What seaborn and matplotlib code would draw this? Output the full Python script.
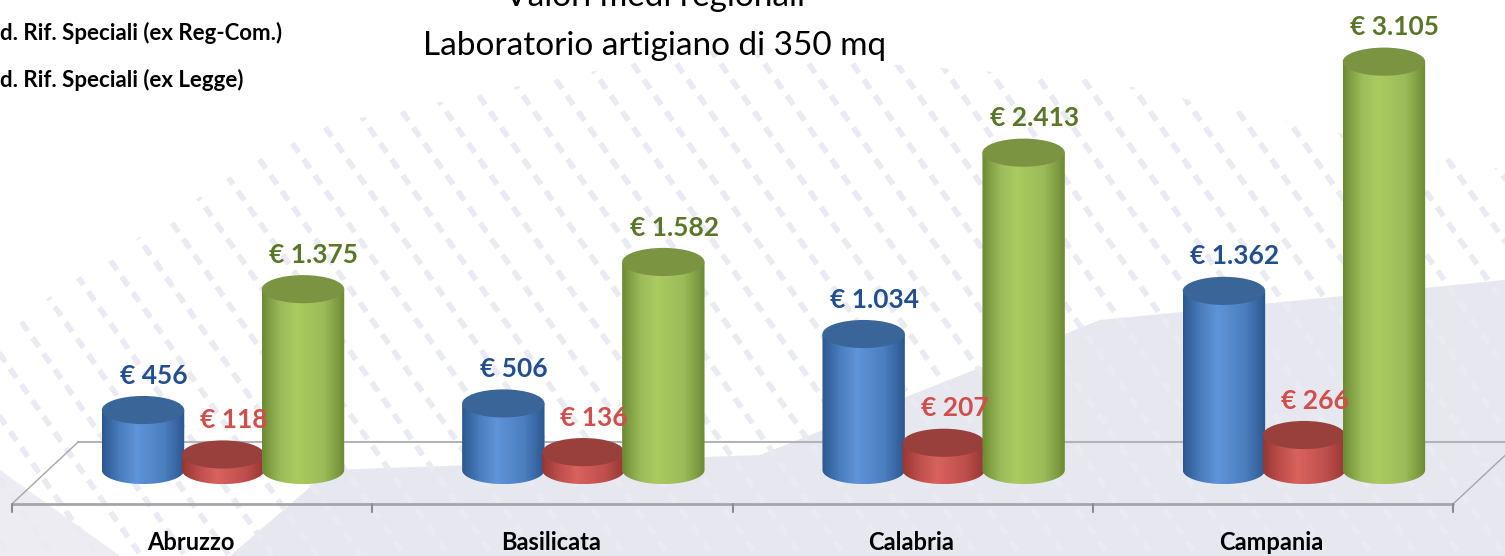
import numpy as np
import pandas as pd
import matplotlib
matplotlib.use("Agg")
import matplotlib.pyplot as plt
import seaborn as sns
from matplotlib.colors import LinearSegmentedColormap
from matplotlib.patches import Ellipse, PathPatch, Polygon
from matplotlib.path import Path

# data (euro)
regions = ["Abruzzo", "Basilicata", "Calabria", "Campania"]
series = ["Reg-Com", "Rif. Speciali", "Legge"]
val_blue = [456, 506, 1034, 1362]
val_red = [118, 136, 207, 266]
val_green = [1375, 1582, 2413, 3105]

title_1 = "Valori medi regionali"
title_2 = "Laboratorio artigiano di 350 mq"
legend_1 = "d. Rif. Speciali (ex Reg-Com.)"
legend_2 = "d. Rif. Speciali (ex Legge)"

df = pd.DataFrame({
    "Regione": regions * 3,
    "Serie": [s for s in series for _ in regions],
    "Valore": val_blue + val_red + val_green,
})

# base colour, edge shade, highlight, top ellipse, label colour
styles = [
    ("#4A7EBF", "#2C578F", "#5E95D8", "#3A6598", "#234F8E"),
    ("#C0504D", "#963633", "#D8625E", "#99403D", "#D04E4B"),
    ("#9BBB59", "#6D8A34", "#AACB62", "#7A9442", "#5A7628"),
]

sns.set_style("white")
plt.rcParams["font.family"] = ["Lato", "DejaVu Sans"]

fig = plt.figure(figsize=(15.05, 5.56), dpi=100)

# slide background (pixel coords)
bg = fig.add_axes([0, 0, 1, 1])
bg.set_xlim(0, 1505)
bg.set_ylim(556, 0)
bg.axis("off")
bg.add_patch(Polygon([(230, 556), (330, 470), (760, 455), (1100, 320), (1505, 280),
                      (1505, 556)], closed=True, fc="#E7E7EF", ec="none"))
bg.add_patch(Polygon([(0, 556), (0, 470), (120, 556)], closed=True, fc="#ECECF2", ec="none"))
region = Polygon([(0, 330), (300, 130), (700, 50), (1100, 80), (1505, 170),
                  (1505, 556), (0, 556)], closed=True, fc="none", ec="none")
bg.add_patch(region)
ang = np.deg2rad(55)
for x in np.arange(-600, 1600, 44):
    ln, = bg.plot([x, x + 800 * np.cos(ang)], [0, 800 * np.sin(ang)],
                  color="#E9EAF2", lw=4, ls=(0, (2, 1.5)), solid_capstyle="butt")
    ln.set_clip_path(region)

ax = fig.add_axes([0, 0, 1, 1])
ax.patch.set_alpha(0)

sns.barplot(data=df, x="Regione", y="Valore", hue="Serie", order=regions,
            hue_order=series, palette=[s[0] for s in styles], width=0.666,
            saturation=1, legend=False, ax=ax)

ey = 214  # ellipse height in data units
theta = np.linspace(np.pi, 2 * np.pi, 80)

for k, cont in enumerate(ax.containers):
    base, dark, light, topc, labc = styles[k]
    cmap = LinearSegmentedColormap.from_list(
        "c%d" % k, [(0, dark), (0.22, base), (0.42, light), (0.75, base), (1, dark)])
    for bar in cont:
        bar.set_visible(False)
        w = bar.get_width() * 1.03
        cx = bar.get_x() + bar.get_width() / 2
        h = bar.get_height()
        x0, x1 = cx - w / 2, cx + w / 2
        z = 3 + k
        verts = [(x0, h)] + list(zip(cx + w / 2 * np.cos(theta), ey / 2 * np.sin(theta))) \
            + [(x1, h), (x0, h)]
        clip = PathPatch(Path(verts), transform=ax.transData, fc="none", ec="none")
        ax.add_patch(clip)
        im = ax.imshow(np.linspace(0, 1, 256)[None, :], cmap=cmap, aspect="auto",
                       extent=(x0, x1, -ey / 2, h), origin="lower", zorder=z)
        im.set_clip_path(clip)
        ax.add_patch(Ellipse((cx, h), w, ey, fc=topc, ec="none", zorder=z + 0.1))
        ax.annotate("€ " + format(int(h), ",").replace(",", "."),
                    (cx + 0.03, h + ey / 2), xytext=(0, 6), textcoords="offset points",
                    ha="center", va="bottom", fontsize=19, fontweight="bold",
                    color=labc, zorder=10)

# floor of the 3D chart
n = len(regions)
front, back, shift = -258, 213, 0.184
edges = np.arange(n + 1) - 0.586
ax.plot([edges[0] + shift, edges[-1] + shift], [back, back], color="#B4B4B8", lw=1.5, zorder=1)
ax.plot([edges[0], edges[-1]], [front, front], color="#A6A6AA", lw=2, zorder=1)
ax.plot([edges[0], edges[0] + shift], [front, back], color="#A6A6AA", lw=1, zorder=1)
ax.plot([edges[-1], edges[-1] + shift], [front, back], color="#A6A6AA", lw=1, zorder=1)
for e in edges:
    ax.plot([e, e], [front, front - 60], color="#8C8C90", lw=1.5, zorder=1)
for i, r in enumerate(regions):
    ax.text(i - 0.09, -550, r, ha="center", va="center", fontsize=17,
            fontweight="bold", color="black")

ax.set_xlim(-0.619, 3.558)
ax.set_ylim(-654, 3574)
ax.axis("off")

fig.text(0.435, 1 - 6 / 556, title_1, ha="center", va="baseline", fontsize=24, color="black")
fig.text(0.435, 1 - 46 / 556, title_2, ha="center", va="center", fontsize=24, color="black")
fig.text(0.0, 1 - 33 / 556, legend_1, ha="left", va="center", fontsize=16,
         fontweight="bold", color="black")
fig.text(0.0, 1 - 80 / 556, legend_2, ha="left", va="center", fontsize=16,
         fontweight="bold", color="black")

fig.savefig("out.png", dpi=100)
